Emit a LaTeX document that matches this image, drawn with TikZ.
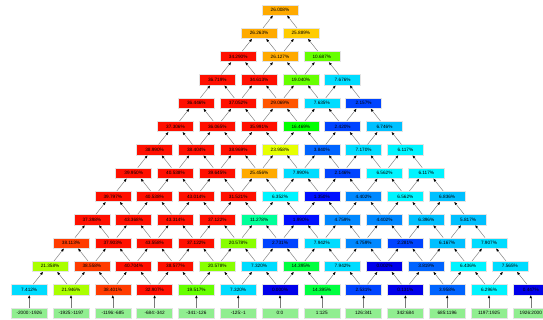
\documentclass[tikz,border=0pt]{standalone}
\usepackage{fontspec}
\setmainfont{Liberation Sans}
\usepackage{tikz}
\usetikzlibrary{calc,arrows.meta}
\usepackage{xcolor}
\definecolor{jred}{HTML}{FF1000}
\definecolor{jredorg}{HTML}{FF3C00}
\definecolor{jorgred}{HTML}{FF5500}
\definecolor{jorange}{HTML}{FFAA00}
\definecolor{jamber}{HTML}{FFCC00}
\definecolor{jyellow}{HTML}{E6FF00}
\definecolor{jlime}{HTML}{AAFF00}
\definecolor{jchart}{HTML}{88FF00}
\definecolor{jgreenA}{HTML}{66FF00}
\definecolor{jgreen}{HTML}{00FF00}
\definecolor{jgreenB}{HTML}{00FF40}
\definecolor{jspring}{HTML}{00FF99}
\definecolor{jcyan}{HTML}{00F4FF}
\definecolor{jcyanB}{HTML}{00DCFF}
\definecolor{jsky}{HTML}{00C0FF}
\definecolor{jazure}{HTML}{0088FF}
\definecolor{jblueA}{HTML}{0064FF}
\definecolor{jblueB}{HTML}{0044FF}
\definecolor{jblueC}{HTML}{0010FF}
\definecolor{jblueD}{HTML}{0000EA}
\definecolor{leafgreen}{HTML}{90EE90}
\definecolor{linegray}{HTML}{7A7A7A}
\definecolor{boxline}{HTML}{E4E4E4}

\begin{document}
\begin{tikzpicture}[
      x=1pt, y=-1pt,
      every node/.style={font=\fontsize{4.7}{5}\selectfont},
      cellbox/.style={
        draw=boxline, line width=0.5pt,
        minimum width=36pt, minimum height=10.3pt,
        inner sep=0pt
      },
      leafbox/.style={cellbox, fill=leafgreen},
      edge/.style={
        draw=linegray, line width=0.45pt,
        -{Latex[black,length=3.2pt,width=2.6pt]}
      }
    ]
      \useasboundingbox (0,0) rectangle (543,320);
      % rows of the pyramid, top to bottom: value/colour
      \foreach \row [count=\r] in {
        {26.008/jorange},
        {26.263/jorange,25.889/jamber},
        {34.290/jred,26.127/jorange,10.687/jgreenA},
        {36.719/jred,34.613/jred,19.040/jgreenA,7.676/jcyanB},
        {36.446/jred,37.052/jred,29.069/jorgred,7.635/jcyanB,2.157/jblueB},
        {37.306/jred,36.065/jred,35.991/jred,16.469/jgreen,2.420/jblueB,6.746/jsky},
        {38.990/jred,38.404/jred,38.969/jred,23.958/jyellow,3.840/jblueA,7.170/jcyanB,6.117/jcyan},
        {39.950/jred,40.538/jred,39.645/jred,25.456/jorange,7.990/jcyanB,2.146/jblueB,6.562/jcyan,6.117/jcyan},
        {39.797/jred,40.538/jred,43.014/jred,31.521/jred,6.352/jcyan,1.350/jblueC,4.402/jazure,6.562/jcyan,6.836/jsky},
        {37.398/jred,43.368/jred,43.314/jred,37.122/jred,11.278/jspring,1.990/jblueC,4.759/jazure,4.402/jazure,6.396/jsky,5.817/jsky},
        {38.113/jredorg,37.903/jred,43.558/jred,37.122/jred,20.578/jchart,2.731/jblueB,7.942/jcyanB,4.759/jazure,2.281/jblueB,6.167/jsky,7.907/jcyanB},
        {21.358/jlime,38.558/jredorg,40.704/jred,38.577/jred,20.578/jchart,7.320/jcyanB,14.395/jgreenB,7.942/jcyanB,0.002/jblueD,3.819/jblueA,6.436/jcyan,7.565/jcyanB},
        {7.412/jcyanB,21.946/jlime,38.401/jredorg,32.907/jred,19.517/jgreenA,7.320/jcyanB,0.000/jblueD,14.395/jgreenB,2.531/jblueB,0.131/jblueD,3.958/jblueA,6.296/jcyan,0.447/jblueD}} {
        \foreach \v/\c [count=\i] in \row {
          \pgfmathsetmacro\px{280+(\i-(\r+1)/2)*41.8}
          \pgfmathsetmacro\py{10+(\r-1)*23.3}
          \node[cellbox, fill=\c] (v-\r-\i) at (\px,\py) {\v\%};
        }
      }
      % bins at the bottom
      \foreach \b [count=\i] in {-2000:-1926,-1925:-1197,-1196:-685,-684:-342,-341:-126,-125:-1,
                                 0:0,1:125,126:341,342:684,685:1196,1197:1925,1926:2000} {
        \pgfmathsetmacro\px{280+(\i-7)*41.8}
        \node[leafbox] (leaf-\i) at (\px,313) {\b};
        \draw[edge] (leaf-\i) -- (v-13-\i);
      }
      % arrows up the pyramid
      \foreach \r in {2,...,13} {
        \pgfmathtruncatemacro\p{\r-1}
        \foreach \i in {1,...,\r} {
          \pgfmathtruncatemacro\q{\i-1}
          \ifnum\i>1 \draw[edge] ($(v-\r-\i.north)+(-4,0)$) -- ($(v-\p-\q.south)+(7,0)$); \fi
          \ifnum\i<\r \draw[edge] ($(v-\r-\i.north)+(4,0)$) -- ($(v-\p-\i.south)+(-7,0)$); \fi
        }
      }
    \end{tikzpicture}
\end{document}
